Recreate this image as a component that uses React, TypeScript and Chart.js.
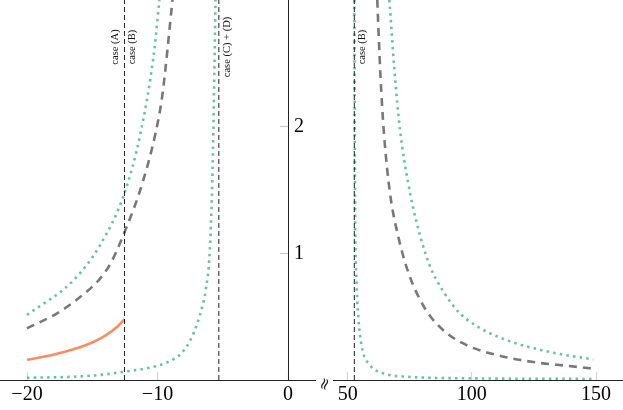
import React, { useEffect, useRef } from "react";
import { Chart, registerables } from "chart.js";

Chart.register(...registerables);

// ---------- data ----------
const leftTicks = [-20, -10, 0];
const rightTicks = [50, 100, 150];
const yTicks = [1, 2];

const leftMin = -22.07;
const leftMax = 0;
const rightMin = 25.96;
const rightMax = 160.87;
const yMin = 0;
const yMax = 3;

// left panel
const greenUpperLX = [-20, -16.42, -14.37, -12.55, -11.3, -10.3, -9.85];
const greenUpperLY = [0.513, 0.789, 1.07, 1.47, 1.95, 2.56, 3.0];

const grayLX = [-20, -17.7, -15.91, -14.5, -13.6, -12.46, -11.17, -10.15, -9.64, -8.85];
const grayLY = [0.408, 0.526, 0.657, 0.789, 0.92, 1.184, 1.55, 1.95, 2.24, 3.0];

const salmonX = [-20, -18, -16, -15, -14, -13, -12.53];
const salmonY = [0.16, 0.199, 0.256, 0.296, 0.35, 0.428, 0.48];

const greenLowerLX = [-20, -16.93, -14.37, -12.53, -10.54, -9.26, -8.23, -7.47, -6.95, -6.57, -6.32, -5.99, -5.78, -5.55];
const greenLowerLY = [0.018, 0.024, 0.04, 0.066, 0.098, 0.14, 0.205, 0.316, 0.447, 0.58, 0.7, 1.03, 1.66, 3.0];

const caseLinesLeft = [-12.53, -5.3];

// right panel
const greenLowerRX = [52.7, 52.85, 53.05, 53.5, 54.27, 55.6, 58.98, 64.3, 73.8, 100.6, 148.9];
const greenLowerRY = [3.0, 2.0, 1.2, 0.8, 0.5, 0.27, 0.118, 0.053, 0.026, 0.013, 0.008];

const grayRX = [61.9, 63.2, 64.6, 67, 70.4, 74.4, 79.1, 83.8, 89.9, 97.9, 110, 124.7, 138.2, 148.9];
const grayRY = [3.0, 2.4, 1.95, 1.48, 1.13, 0.85, 0.635, 0.49, 0.37, 0.275, 0.197, 0.142, 0.112, 0.09];

const greenUpperRX = [66.8, 68.8, 71.1, 74.4, 77.8, 83.1, 88.5, 95, 103.3, 112, 122.1, 135.5, 148.9];
const greenUpperRY = [3.0, 2.45, 1.97, 1.55, 1.24, 0.9, 0.7, 0.53, 0.41, 0.33, 0.265, 0.205, 0.163];

const caseLinesRight = [52.66];

const caseLabelsLeft = ["case (A)", "case (B)", "case (C) + (D)"];
const caseLabelsRight = ["case (B)"];

// ---------- styling ----------
const SERIF = "'Liberation Serif', 'DejaVu Serif', serif";
const GREEN = "#66c2a5";
const GRAY = "#787878";
const SALMON = "#fc8d62";

const pts = (xs: number[], ys: number[]) => xs.map((x, i) => ({ x, y: ys[i] }));

const dotted = (data: any) => ({
  data,
  borderColor: GREEN,
  borderWidth: 2.6,
  borderDash: [2.5, 4.2],
  borderCapStyle: "butt",
  pointRadius: 0,
  cubicInterpolationMode: "monotone",
  fill: false,
});
const dashed = (data: any) => ({
  data,
  borderColor: GRAY,
  borderWidth: 2.6,
  borderDash: [8, 6],
  borderCapStyle: "butt",
  pointRadius: 0,
  cubicInterpolationMode: "monotone",
  fill: false,
});
const solid = (data: any) => ({
  data,
  borderColor: SALMON,
  borderWidth: 2.6,
  pointRadius: 0,
  cubicInterpolationMode: "monotone",
  fill: false,
});
const vline = (v: number) => ({
  data: [
    { x: v, y: yMin },
    { x: v, y: yMax },
  ],
  borderColor: "#222",
  borderWidth: 1,
  borderDash: [5, 3],
  pointRadius: 0,
  fill: false,
});

const fmt = (v: number) => (v < 0 ? "\u2212" + Math.abs(v) : String(v));

const xScale = (min: number, max: number, ticks: number[]) => ({
  type: "linear",
  min,
  max,
  afterBuildTicks: (s: any) => {
    s.ticks = ticks.map((value) => ({ value }));
  },
  afterFit: (s: any) => {
    s.height = 30;
    s.paddingLeft = 0;
    s.paddingRight = 0;
  },
  ticks: {
    font: { family: SERIF, size: 20 },
    color: "#000",
    padding: 11,
    maxRotation: 0,
    autoSkip: false,
    callback: (v: any) => fmt(Number(v)),
  },
  grid: {
    drawOnChartArea: false,
    drawTicks: true,
    tickLength: -8,
    tickColor: "#d4d4d4",
    tickWidth: 1.2,
  },
  border: { display: true, color: "#222", width: 1 },
});

const caseLabelPlugin = (items: { x: number; text: string; dx: number }[]) => ({
  id: "caseLabels",
  afterDatasetsDraw(chart: any) {
    const { ctx } = chart;
    const xs = chart.scales.x;
    ctx.save();
    ctx.font = `10.5px ${SERIF}`;
    ctx.fillStyle = "#111";
    ctx.textAlign = "center";
    ctx.textBaseline = "middle";
    items.forEach((it) => {
      const px = xs.getPixelForValue(it.x) + it.dx;
      ctx.save();
      ctx.translate(px, 47);
      ctx.rotate(-Math.PI / 2);
      ctx.fillText(it.text, 0, 0);
      ctx.restore();
    });
    ctx.restore();
  },
});

export default function App() {
  const leftRef = useRef<HTMLCanvasElement>(null);
  const rightRef = useRef<HTMLCanvasElement>(null);

  useEffect(() => {
    const common = {
      animation: false,
      responsive: false,
      devicePixelRatio: 1,
      plugins: { legend: { display: false }, tooltip: { enabled: false } },
    };

    const left = new Chart(leftRef.current as HTMLCanvasElement, {
      type: "line",
      data: {
        datasets: [
          vline(caseLinesLeft[0]),
          vline(caseLinesLeft[1]),
          dotted(pts(greenUpperLX, greenUpperLY)),
          dashed(pts(grayLX, grayLY)),
          solid(pts(salmonX, salmonY)),
          dotted(pts(greenLowerLX, greenLowerLY)),
        ] as any,
      },
      options: {
        ...common,
        layout: { padding: { left: 0, right: 12, top: 0, bottom: 0 } },
        scales: {
          x: xScale(leftMin, leftMax, leftTicks) as any,
          y: { type: "linear", min: yMin, max: yMax, display: false },
        },
      } as any,
      plugins: [
        caseLabelPlugin([
          { x: caseLinesLeft[0], text: caseLabelsLeft[0], dx: -9 },
          { x: caseLinesLeft[0], text: caseLabelsLeft[1], dx: 8 },
          { x: caseLinesLeft[1], text: caseLabelsLeft[2], dx: 8.5 },
        ]),
      ],
    });

    const right = new Chart(rightRef.current as HTMLCanvasElement, {
      type: "line",
      data: {
        datasets: [
          vline(caseLinesRight[0]),
          dotted(pts(greenLowerRX, greenLowerRY)),
          dashed(pts(grayRX, grayRY)),
          dotted(pts(greenUpperRX, greenUpperRY)),
        ] as any,
      },
      options: {
        ...common,
        layout: { padding: 0 },
        scales: {
          x: xScale(rightMin, rightMax, rightTicks) as any,
          y: {
            type: "linear",
            position: "left",
            min: yMin,
            max: yMax,
            afterBuildTicks: (s: any) => {
              s.ticks = yTicks.map((value) => ({ value }));
            },
            afterFit: (s: any) => {
              s.width = 8;
              s.paddingTop = 0;
              s.paddingBottom = 0;
            },
            ticks: {
              mirror: true,
              padding: 6,
              font: { family: SERIF, size: 20 },
              color: "#000",
              callback: (v: any) => fmt(Number(v)),
            },
            grid: {
              drawOnChartArea: false,
              drawTicks: true,
              tickLength: 8,
              tickColor: "#c8c8c8",
              tickWidth: 1.2,
            },
            border: { display: true, color: "#222", width: 1 },
          },
        },
      } as any,
      plugins: [caseLabelPlugin([{ x: caseLinesRight[0], text: caseLabelsRight[0], dx: 8 }])],
    });

    return () => {
      left.destroy();
      right.destroy();
    };
  }, []);

  return (
    <div style={{ position: "absolute", left: 0, top: 0, width: 623, height: 410, background: "#fff", overflow: "hidden" }}>
      <canvas ref={leftRef} width={300} height={410} style={{ position: "absolute", left: 0, top: 0, width: 300, height: 410 }} />
      <canvas ref={rightRef} width={343} height={410} style={{ position: "absolute", left: 280, top: 0, width: 343, height: 410 }} />
      <div
        style={{
          position: "absolute",
          left: 316,
          top: 372,
          width: 17,
          height: 17,
          background: "#fff",
          display: "flex",
          alignItems: "center",
          justifyContent: "center",
          fontFamily: "'DejaVu Sans', sans-serif",
          fontSize: 16,
          lineHeight: "16px",
          color: "#222",
        }}
      >
        <span style={{ display: "inline-block", transform: "translateY(3px) rotate(-70deg)" }}>≈</span>
      </div>
    </div>
  );
}
